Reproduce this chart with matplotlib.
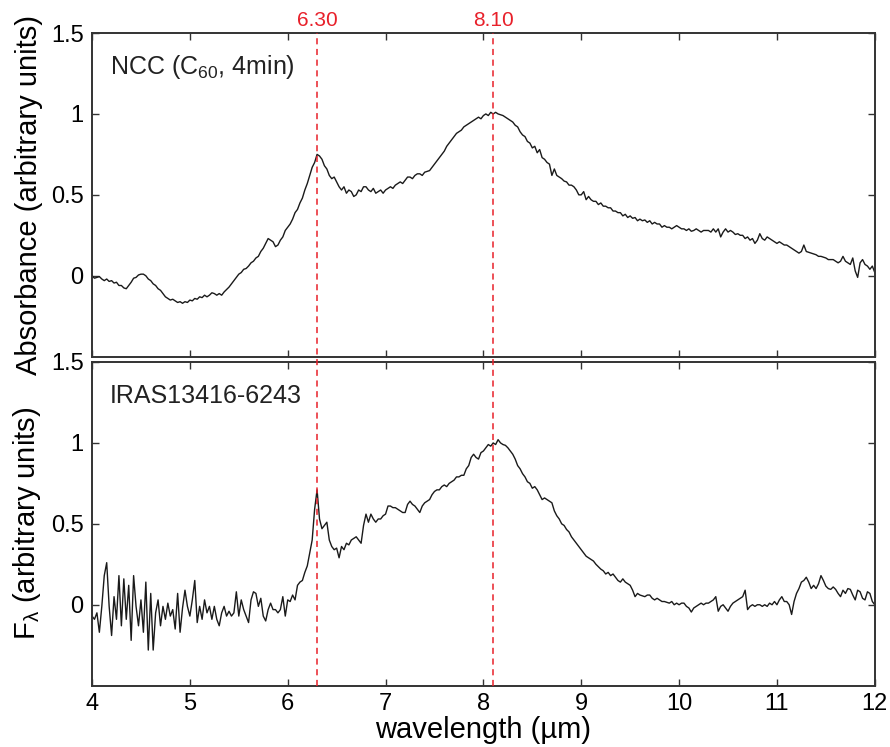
import numpy as np
import matplotlib
matplotlib.use('Agg')
import matplotlib.pyplot as plt
from matplotlib.lines import Line2D
from matplotlib.transforms import blended_transform_factory

plt.rcParams['font.family'] = ['Liberation Sans', 'DejaVu Sans']
plt.rcParams['mathtext.fontset'] = 'custom'
plt.rcParams['mathtext.rm'] = 'Liberation Sans'
plt.rcParams['mathtext.it'] = 'Liberation Sans'

# both spectra sampled every 0.025 um from 4 to 12 (one row = 0.25 um)
wavelength = np.round(np.arange(4.0, 12.001, 0.025), 3)

# top panel: NCC (C60, 4min) absorbance
absorb = [
    0.00, -0.015, -0.01, -0.005, -0.02, -0.03, -0.02, -0.035, -0.03, -0.045,
    -0.04, -0.06, -0.06, -0.075, -0.08, -0.06, -0.04, -0.015, -0.01, 0.005,
    0.01, 0.01, 0.00, -0.02, -0.03, -0.05, -0.06, -0.08, -0.09, -0.11,
    -0.13, -0.14, -0.15, -0.145, -0.155, -0.165, -0.16, -0.17, -0.16, -0.165,
    -0.15, -0.155, -0.14, -0.145, -0.13, -0.135, -0.12, -0.13, -0.12, -0.105,
    -0.11, -0.12, -0.11, -0.12, -0.10, -0.085, -0.07, -0.05, -0.03, -0.01,
    0.01, 0.02, 0.04, 0.045, 0.06, 0.08, 0.09, 0.11, 0.12, 0.15,
    0.17, 0.20, 0.23, 0.22, 0.21, 0.18, 0.19, 0.22, 0.24, 0.28,
    0.30, 0.32, 0.35, 0.39, 0.41, 0.45, 0.48, 0.53, 0.57, 0.62,
    0.67, 0.70, 0.75, 0.74, 0.72, 0.68, 0.66, 0.62, 0.60, 0.61,
    0.58, 0.55, 0.53, 0.55, 0.51, 0.53, 0.52, 0.49, 0.50, 0.53,
    0.52, 0.55, 0.55, 0.53, 0.52, 0.54, 0.51, 0.52, 0.53, 0.51,
    0.53, 0.54, 0.55, 0.54, 0.56, 0.57, 0.58, 0.57, 0.59, 0.61,
    0.61, 0.60, 0.62, 0.63, 0.63, 0.62, 0.64, 0.645, 0.65, 0.67,
    0.69, 0.71, 0.73, 0.75, 0.77, 0.80, 0.82, 0.84, 0.86, 0.88,
    0.89, 0.90, 0.92, 0.93, 0.94, 0.95, 0.96, 0.97, 0.98, 0.97,
    0.99, 1.00, 0.99, 1.01, 1.00, 1.01, 1.00, 0.995, 0.99, 0.98,
    0.97, 0.96, 0.95, 0.93, 0.92, 0.89, 0.87, 0.86, 0.83, 0.82,
    0.79, 0.80, 0.76, 0.78, 0.73, 0.72, 0.70, 0.69, 0.62, 0.66,
    0.62, 0.61, 0.60, 0.585, 0.58, 0.56, 0.56, 0.55, 0.53, 0.50,
    0.50, 0.52, 0.47, 0.49, 0.47, 0.46, 0.46, 0.44, 0.45, 0.43,
    0.43, 0.42, 0.42, 0.40, 0.40, 0.39, 0.39, 0.37, 0.38, 0.36,
    0.37, 0.355, 0.36, 0.34, 0.35, 0.34, 0.345, 0.33, 0.34, 0.32,
    0.33, 0.32, 0.32, 0.30, 0.31, 0.30, 0.30, 0.29, 0.30, 0.31,
    0.30, 0.29, 0.29, 0.28, 0.29, 0.275, 0.28, 0.29, 0.28, 0.27,
    0.28, 0.28, 0.28, 0.27, 0.29, 0.27, 0.29, 0.24, 0.27, 0.29,
    0.27, 0.28, 0.27, 0.255, 0.26, 0.25, 0.25, 0.23, 0.24, 0.22,
    0.23, 0.20, 0.22, 0.26, 0.23, 0.22, 0.24, 0.23, 0.22, 0.21,
    0.20, 0.21, 0.20, 0.19, 0.19, 0.18, 0.17, 0.16, 0.15, 0.14,
    0.15, 0.19, 0.15, 0.145, 0.14, 0.135, 0.13, 0.12, 0.12, 0.115,
    0.11, 0.10, 0.10, 0.10, 0.09, 0.08, 0.09, 0.12, 0.09, 0.08,
    0.07, 0.11, 0.03, -0.01, 0.08, 0.10, 0.07, 0.06, 0.04, 0.06,
    0.02,
]

# bottom panel: IRAS13416-6243 flux
flux = [
    -0.07, -0.09, -0.05, -0.17, -0.01, 0.18, 0.26, -0.01, -0.19, 0.05,
    -0.09, 0.18, -0.13, 0.16, -0.09, 0.12, -0.22, 0.18, -0.01, -0.13,
    0.03, -0.17, 0.14, -0.28, 0.07, -0.28, -0.05, 0.03, -0.13, -0.01,
    -0.09, 0.01, -0.07, -0.03, -0.15, 0.07, -0.17, -0.02, 0.09, -0.01,
    -0.07, 0.03, 0.15, -0.11, -0.01, -0.09, 0.03, -0.05, -0.01, -0.09,
    -0.01, -0.09, -0.13, -0.05, -0.01, -0.07, -0.04, -0.07, -0.05, 0.08,
    -0.07, 0.03, -0.03, -0.07, -0.11, 0.03, 0.08, 0.07, -0.01, 0.04,
    -0.07, -0.10, -0.03, 0.01, -0.03, -0.03, -0.05, -0.03, 0.05, -0.07,
    0.03, 0.02, 0.06, 0.03, 0.12, 0.14, 0.15, 0.20, 0.24, 0.32,
    0.40, 0.59, 0.71, 0.53, 0.47, 0.49, 0.51, 0.40, 0.36, 0.34,
    0.35, 0.29, 0.36, 0.34, 0.38, 0.37, 0.40, 0.41, 0.42, 0.40,
    0.38, 0.49, 0.56, 0.51, 0.56, 0.53, 0.51, 0.53, 0.53, 0.55,
    0.56, 0.61, 0.61, 0.60, 0.60, 0.59, 0.58, 0.57, 0.57, 0.62,
    0.64, 0.62, 0.61, 0.59, 0.57, 0.61, 0.63, 0.64, 0.65, 0.68,
    0.70, 0.71, 0.71, 0.73, 0.74, 0.73, 0.75, 0.76, 0.77, 0.79,
    0.79, 0.80, 0.80, 0.84, 0.86, 0.91, 0.93, 0.91, 0.90, 0.94,
    0.95, 0.97, 0.99, 0.98, 1.00, 0.99, 1.02, 1.00, 0.99, 0.985,
    0.97, 0.95, 0.93, 0.90, 0.86, 0.84, 0.81, 0.79, 0.76, 0.75,
    0.72, 0.73, 0.71, 0.68, 0.65, 0.66, 0.65, 0.64, 0.63, 0.58,
    0.55, 0.53, 0.50, 0.49, 0.465, 0.45, 0.42, 0.40, 0.38, 0.36,
    0.34, 0.32, 0.30, 0.29, 0.28, 0.27, 0.25, 0.235, 0.22, 0.21,
    0.19, 0.20, 0.18, 0.19, 0.17, 0.15, 0.14, 0.16, 0.14, 0.13,
    0.12, 0.09, 0.05, 0.07, 0.06, 0.055, 0.05, 0.06, 0.06, 0.04,
    0.03, 0.04, 0.03, 0.02, 0.02, 0.015, 0.01, 0.02, 0.00, 0.01,
    0.00, 0.01, 0.01, -0.01, -0.02, -0.045, -0.02, -0.01, 0.00, 0.01,
    0.00, 0.01, 0.01, 0.02, 0.03, 0.05, -0.04, -0.01, 0.00, -0.02,
    -0.04, -0.01, 0.01, 0.02, 0.03, 0.04, 0.05, 0.09, -0.03, -0.01,
    0.00, -0.01, 0.00, 0.00, -0.01, 0.00, -0.01, 0.01, 0.00, 0.02,
    0.00, 0.03, 0.05, 0.02, 0.02, 0.00, -0.06, 0.02, 0.07, 0.10,
    0.14, 0.15, 0.17, 0.14, 0.10, 0.12, 0.10, 0.13, 0.18, 0.15,
    0.115, 0.10, 0.095, 0.11, 0.095, 0.07, 0.05, 0.09, 0.07, 0.10,
    0.095, 0.06, 0.03, 0.09, 0.08, 0.04, 0.03, 0.08, 0.07, 0.02,
    0.00,
]

peaks = [6.30, 8.10]
peak_labels = ['6.30', '8.10']

fig = plt.figure(figsize=(8.9, 7.47), dpi=100)
ax1 = fig.add_axes([0.1034, 0.5225, 0.8795, 0.4333])
ax2 = fig.add_axes([0.1034, 0.0821, 0.8795, 0.4333])

ax1.plot(wavelength, absorb, color='#1a1a1a', lw=1.0)
ax2.plot(wavelength, flux, color='#1a1a1a', lw=1.0)

for ax in (ax1, ax2):
    ax.set_xlim(4, 12)
    ax.set_ylim(-0.5, 1.5)
    ax.set_xticks(range(4, 13))
    ax.set_yticks([0, 0.5, 1, 1.5])
    ax.set_yticklabels(['0', '0.5', '1', '1.5'])
    ax.tick_params(direction='in', length=5, width=1, top=True, right=True,
                   labelsize=17, color='#333333', pad=6)
    for s in ax.spines.values():
        s.set_linewidth(1.4)
        s.set_color('#333333')
ax1.tick_params(labelbottom=False)
ax2.tick_params(axis='x', pad=5)

ax1.set_ylabel('Absorbance (arbitrary units)', fontsize=21, labelpad=6)
ax2.set_ylabel(r'F$_{\lambda}$ (arbitrary units)', fontsize=21, labelpad=6)
ax2.set_xlabel('wavelength (µm)', fontsize=21, labelpad=1)
fig.align_ylabels([ax1, ax2])

ax1.text(0.023, 0.895, r'NCC (C$_{60}$, 4min)', transform=ax1.transAxes,
         fontsize=18, va='center', ha='left', color='#222222')
ax2.text(0.023, 0.895, 'IRAS13416-6243', transform=ax2.transAxes,
         fontsize=18, va='center', ha='left', color='#222222')

red = '#e8202a'
trans_line = blended_transform_factory(ax2.transData, fig.transFigure)
trans_lab = blended_transform_factory(ax1.transData, ax1.transAxes)
for x, lab in zip(peaks, peak_labels):
    fig.add_artist(Line2D([x, x], [0.0821, 0.9558], transform=trans_line,
                          color=red, lw=1.1, ls=(0, (4, 3))))
    ax1.text(x, 1.008, lab, transform=trans_lab, color=red, fontsize=15,
             ha='center', va='bottom')

fig.savefig('out.png', dpi=100)
